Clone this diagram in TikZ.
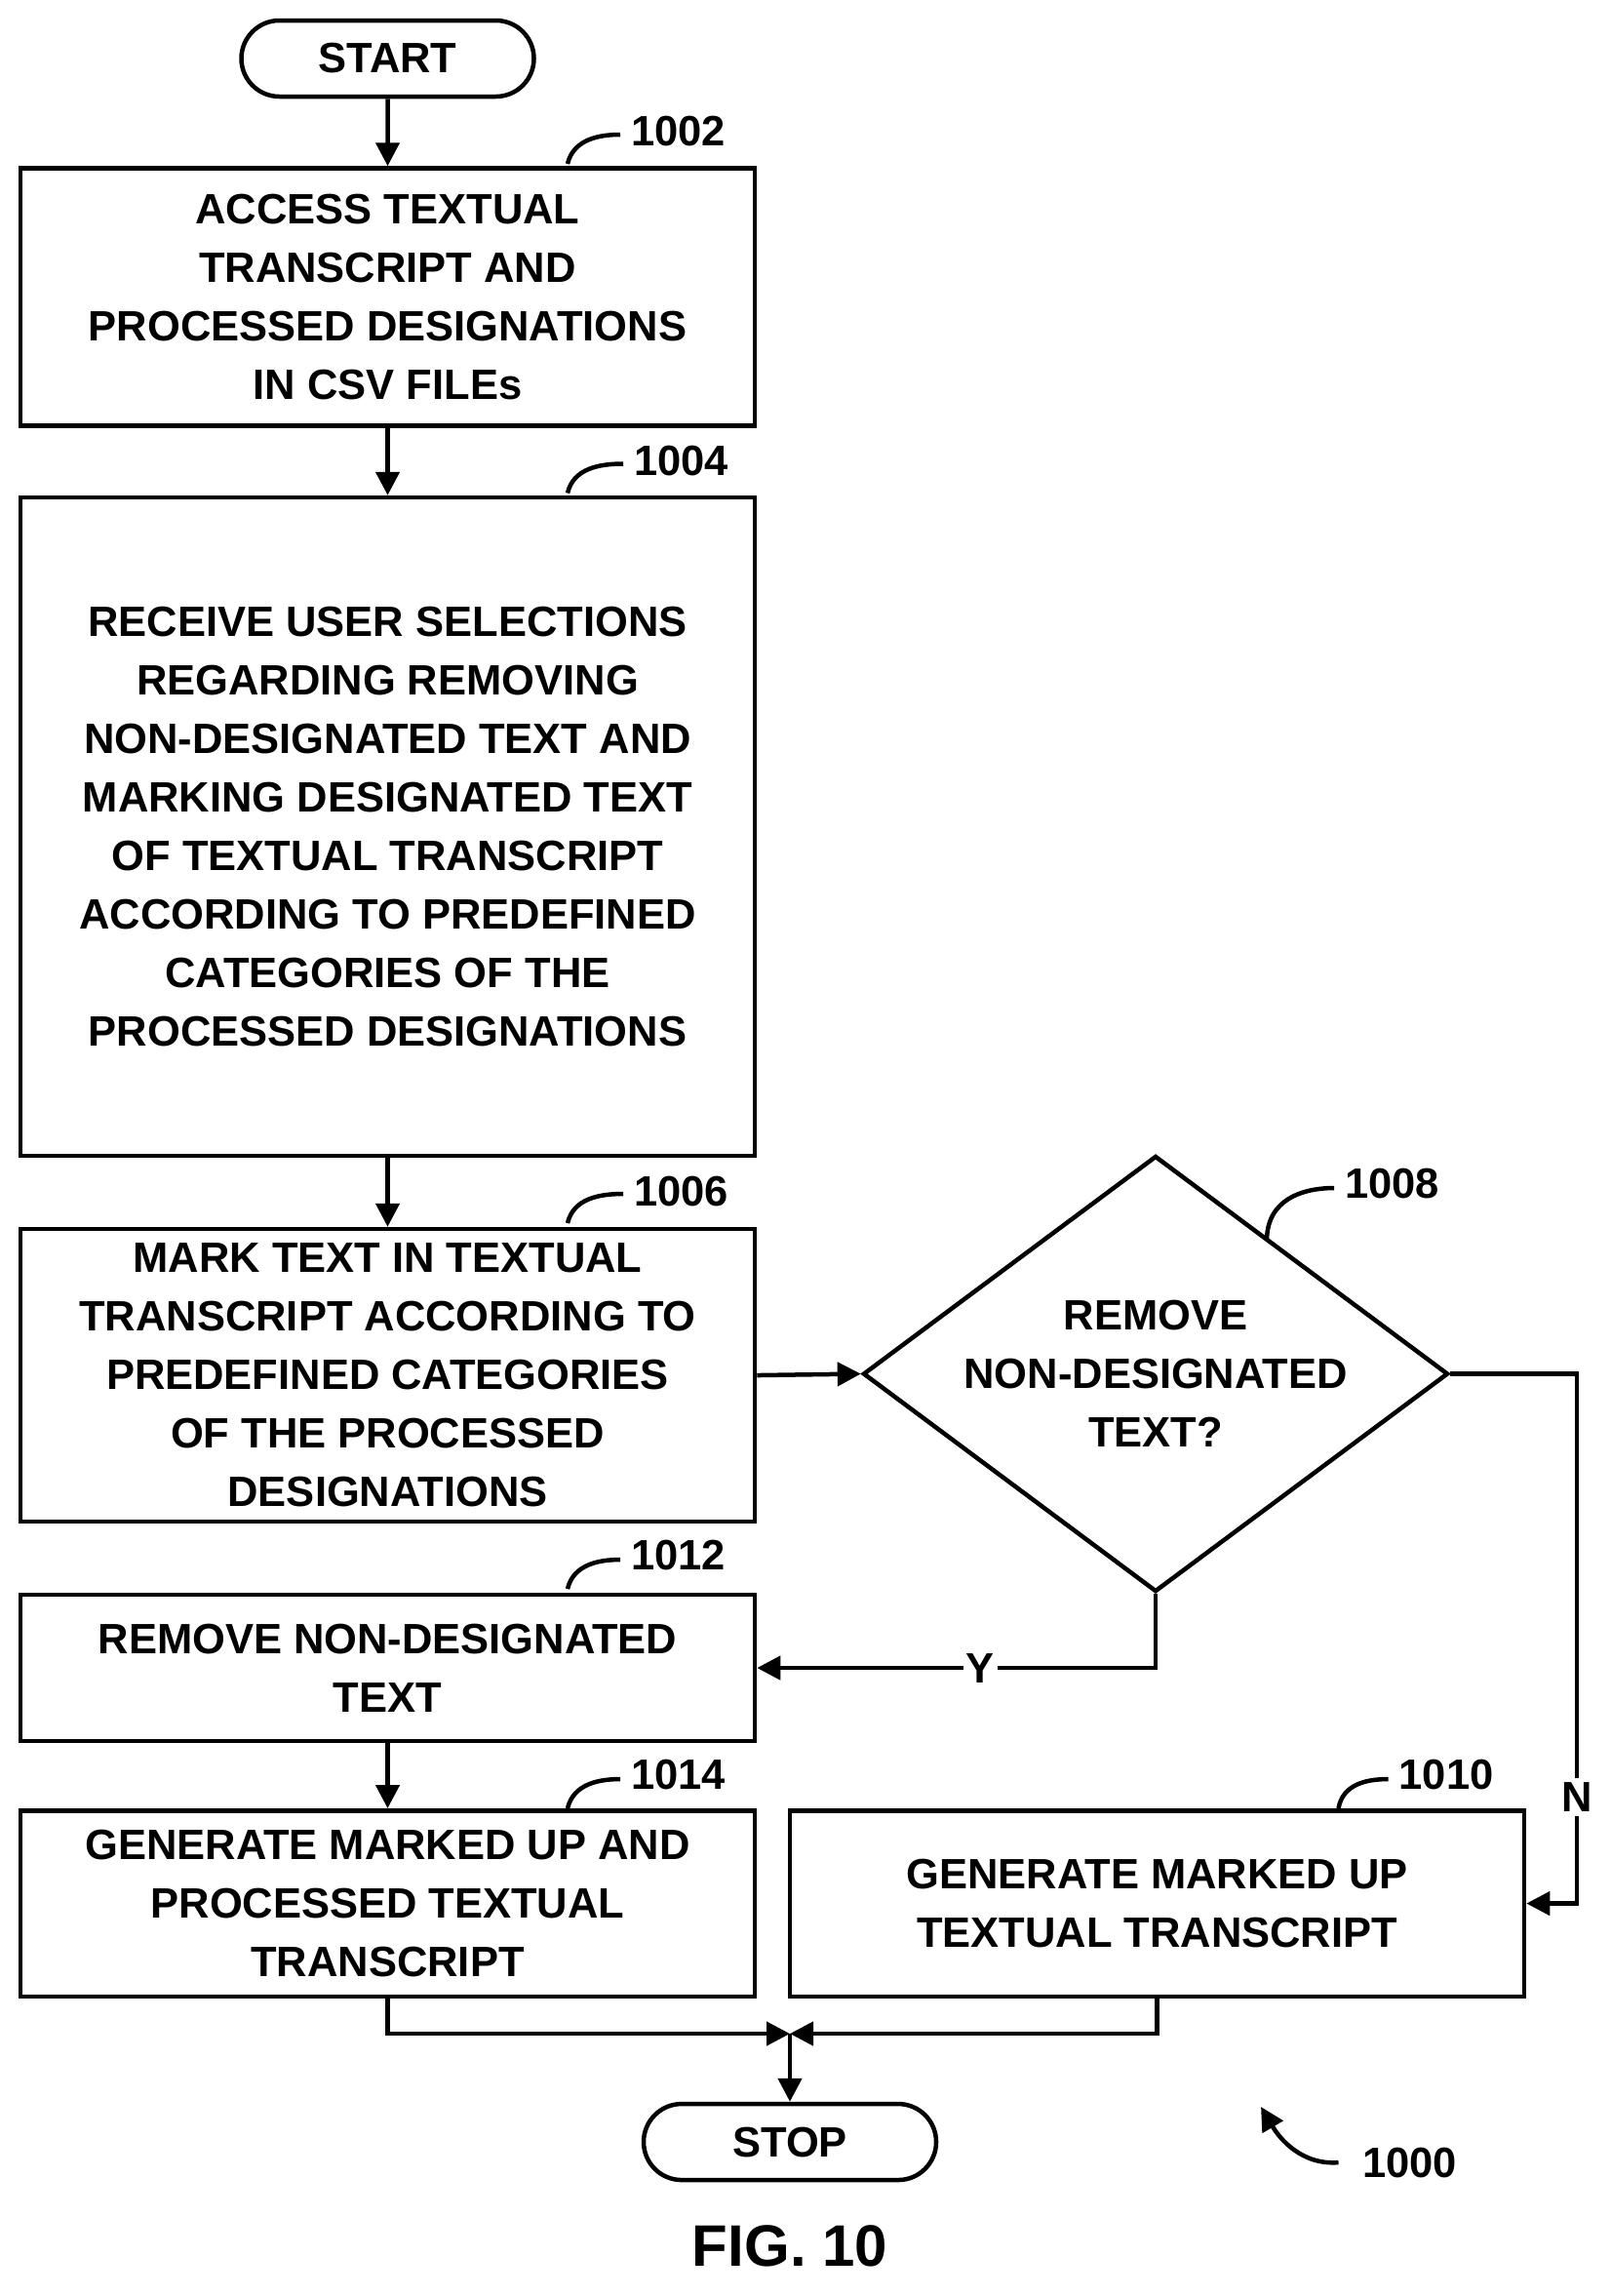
\documentclass[tikz,border=0pt]{standalone}
\usepackage{fontspec}
\setmainfont{Liberation Sans}
\usetikzlibrary{shapes.geometric,shapes.misc,arrows.meta}
\begin{document}
\begin{tikzpicture}[x=1pt,y=-1pt,line width=3pt,
  every node/.style={font=\fontsize{29}{40}\selectfont\bfseries,align=center,inner sep=0pt},
  box/.style={draw,rectangle,minimum width=502pt},
  term/.style={draw,rounded rectangle,minimum width=200pt,minimum height=52pt},
  lab/.style={anchor=west},
  arr/.style={-{Triangle[length=16pt,width=16pt]}}]
\useasboundingbox (0,0) rectangle (1100.7,1569.3);
\node[term] (start) at (265,40) {START};
\node[box,minimum height=176pt] (b1) at (265,203) {ACCESS TEXTUAL\\TRANSCRIPT AND\\PROCESSED DESIGNATIONS\\IN CSV FILEs};
\node[box,minimum height=450pt] (b2) at (265,565) {RECEIVE USER SELECTIONS\\REGARDING REMOVING\\NON-DESIGNATED TEXT AND\\MARKING DESIGNATED TEXT\\OF TEXTUAL TRANSCRIPT\\ACCORDING TO PREDEFINED\\CATEGORIES OF THE\\PROCESSED DESIGNATIONS};
\node[box,minimum height=200pt] (b3) at (265,940) {MARK TEXT IN TEXTUAL\\TRANSCRIPT ACCORDING TO\\PREDEFINED CATEGORIES\\OF THE PROCESSED\\DESIGNATIONS};
\node[draw,diamond,minimum width=400pt,minimum height=298pt,aspect=1.34] (d) at (790,939) {REMOVE\\NON-DESIGNATED\\TEXT?};
\node[box,minimum height=100pt] (b4) at (265,1140) {REMOVE NON-DESIGNATED\\TEXT};
\node[box,minimum height=127pt] (b5) at (265,1301) {GENERATE MARKED UP AND\\PROCESSED TEXTUAL\\TRANSCRIPT};
\node[box,minimum height=127pt] (b6) at (791,1301) {GENERATE MARKED UP\\TEXTUAL TRANSCRIPT};
\node[term] (stop) at (540,1464) {STOP};
\coordinate (m) at (540,1390);
\draw[arr] (start) -- (b1);
\draw[arr] (b1) -- (b2);
\draw[arr] (b2) -- (b3);
\draw[arr] (b3.east) -- (d.west);
\draw[arr] (d.south) |- (b4.east) node[pos=0.72,fill=white,inner sep=2pt] (y) {Y};
\draw[arr] (d.east) -- (1078,939) |- (b6.east) node[pos=0.4,fill=white,inner sep=3pt] (n) {N};
\draw[arr] (b4) -- (b5);
\draw[arr] (b5.south) |- (m);
\draw[arr] (b6.south) |- (m);
\draw[arr] (m) -- (stop.north);
\node[lab] (l1) at (430,90) {1002};
\node[lab] (l2) at (432,315) {1004};
\node[lab] (l3) at (432,814) {1006};
\node[lab] (l4) at (918,809) {1008};
\node[lab] (l5) at (430,1063) {1012};
\node[lab] (l6) at (430,1213) {1014};
\node[lab] (l7) at (955,1213) {1010};
\node[lab] (l8) at (930,1478) {1000};
\draw (388,112) .. controls (392,95) and (410,92) .. (424,92);
\draw (388,337) .. controls (392,320) and (410,317) .. (426,317);
\draw (388,836) .. controls (392,819) and (410,816) .. (426,816);
\draw (866,848) .. controls (866,820) and (890,812) .. (912,812);
\draw (388,1086) .. controls (392,1069) and (410,1066) .. (424,1066);
\draw (388,1236) .. controls (392,1219) and (410,1216) .. (424,1216);
\draw (915,1236) .. controls (918,1219) and (935,1216) .. (949,1216);
\draw[arr] (915,1478) .. controls (890,1480) and (875,1462) .. (862,1440);
\node (fig) at (540,1535) {\fontsize{40}{48}\selectfont FIG. 10};
\end{tikzpicture}
\end{document}
